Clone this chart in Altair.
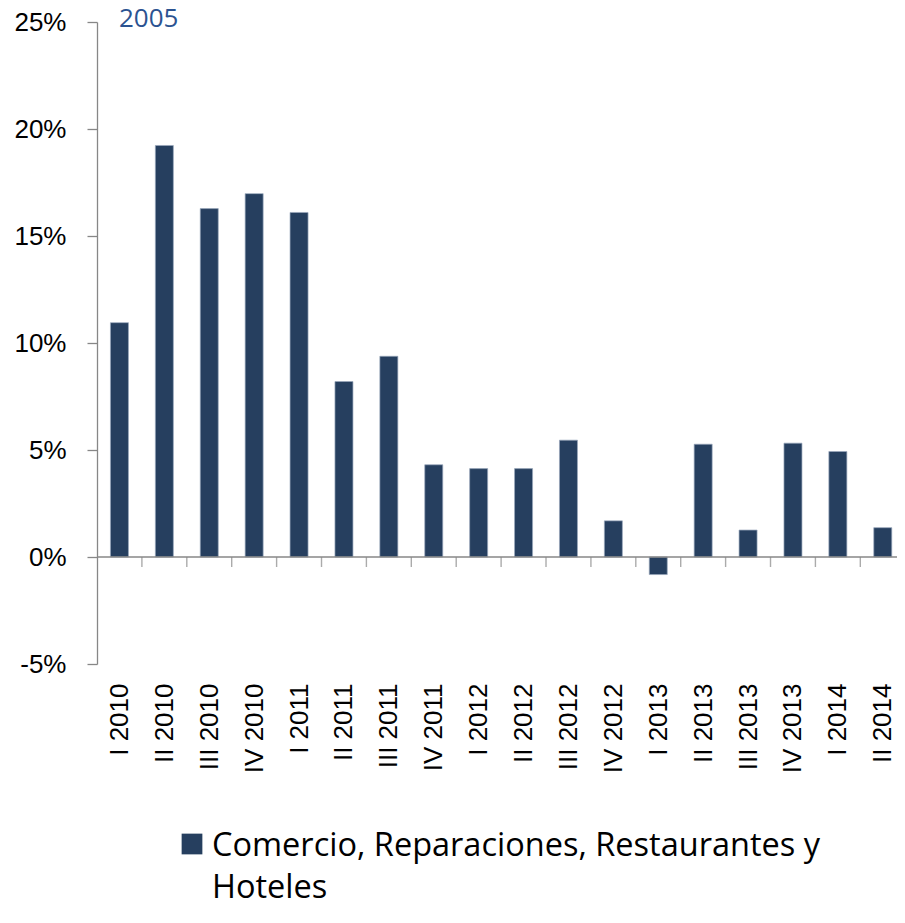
import json
import altair as alt
import pandas as pd

categories = ["I 2010", "II 2010", "III 2010", "IV 2010", "I 2011", "II 2011",
              "III 2011", "IV 2011", "I 2012", "II 2012", "III 2012", "IV 2012",
              "I 2013", "II 2013", "III 2013", "IV 2013", "I 2014", "II 2014"]
values = [10.95, 19.23, 16.28, 16.98, 16.10, 8.20, 9.38, 4.31, 4.13, 4.13,
          5.46, 1.69, -0.82, 5.27, 1.26, 5.32, 4.93, 1.37]
y_ticks = [-5, 0, 5, 10, 15, 20, 25]
series_name = "Comercio, Reparaciones, Restaurantes y\nHoteles"
subtitle = "2005"

BAR = "#263F5F"
GRAY = "#878787"

df = pd.DataFrame({"idx": list(range(len(categories))), "cat": categories, "value": values})
bounds = pd.DataFrame({"b": [i + 0.5 for i in range(len(categories) - 1)]})

xscale = alt.Scale(domain=[-0.5, 17.317], nice=False, zero=False, padding=0)
yscale = alt.Scale(domain=[-5, 25], nice=False, zero=False, padding=0)

bars = alt.Chart(df).mark_bar(size=18, color=BAR, stroke="#9aa8bb", strokeWidth=0.7).encode(
    x=alt.X("idx:Q", scale=xscale, title=None,
            axis=alt.Axis(values=list(range(len(categories))),
                          labelExpr=json.dumps(categories) + "[datum.value]",
                          labelAngle=-90, domain=False, ticks=False, tickSize=0,
                          grid=False, labelPadding=19, labelFontSize=26,
                          labelFont="Liberation Sans", labelColor="#000000")),
    y=alt.Y("value:Q", scale=yscale, title=None,
            axis=alt.Axis(values=y_ticks, labelExpr="datum.value + '%'",
                          grid=False, domainColor=GRAY, domainWidth=1.3,
                          tickColor=GRAY, tickWidth=1.3, tickSize=10,
                          labelPadding=21, labelFontSize=26,
                          labelFont="Liberation Sans", labelColor="#000000")),
)

zero = alt.Chart(pd.DataFrame({"z": [0]})).mark_rule(color=GRAY, strokeWidth=1.5).encode(
    y=alt.Y("z:Q", scale=yscale)
)

xticks = alt.Chart(bounds).mark_tick(orient="vertical", size=10, thickness=1.4,
                                     color=GRAY, yOffset=5).encode(
    x=alt.X("b:Q", scale=xscale),
    y=alt.datum(0, scale=yscale),
)

sub = alt.Chart(pd.DataFrame({"t": [subtitle]})).mark_text(
    font="Open Sans", fontSize=26, color="#2B5391", align="left", baseline="alphabetic"
).encode(text="t:N", x=alt.value(22), y=alt.value(5))

leg_df = pd.DataFrame({"t": [series_name]})
leg_sym = alt.Chart(leg_df).mark_square(size=430, color=BAR, opacity=1).encode(
    x=alt.value(95), y=alt.value(822)
)
leg_txt = alt.Chart(leg_df).mark_text(
    font="Open Sans", fontSize=32.5, color="#000000", align="left", baseline="alphabetic",
    lineBreak="\n", lineHeight=42
).encode(text="t:N", x=alt.value(115), y=alt.value(834))

chart = alt.layer(bars, zero, xticks, sub, leg_sym, leg_txt).properties(
    width=800, height=642,
    padding={"left": 89, "top": 14, "right": 0, "bottom": 243},
    autosize=alt.AutoSizeParams(type="none"),
).configure_view(stroke=None)

chart.save("out.html", embed_options={"renderer": "svg", "actions": False})
